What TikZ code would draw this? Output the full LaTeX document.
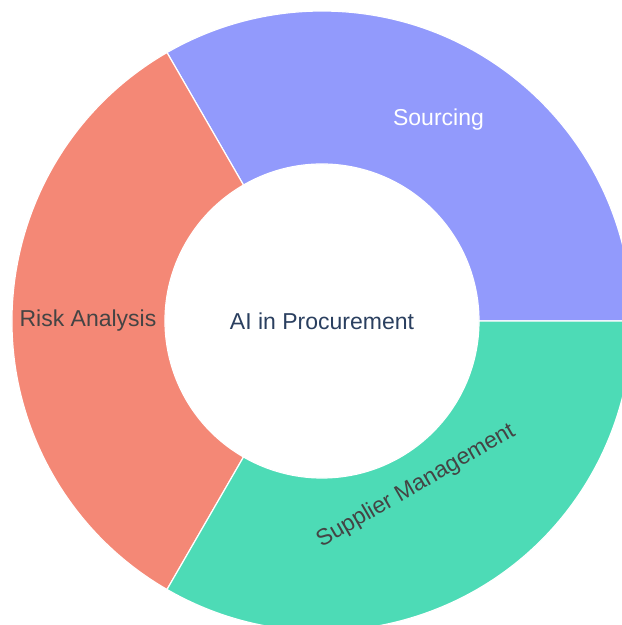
\documentclass[tikz,border=0pt]{standalone}
\usepackage{fontspec}
\setmainfont{Liberation Sans}
\usepackage{tikz}
\usetikzlibrary{positioning}

\definecolor{srcC}{RGB}{146,154,252}
\definecolor{riskC}{RGB}{244,136,118}
\definecolor{supC}{RGB}{77,219,182}
\definecolor{txtC}{RGB}{68,68,68}
\definecolor{midC}{RGB}{42,63,95}

\begin{document}
\begin{tikzpicture}[x=1pt,y=1pt]
	\tikzstyle{Seg} = [draw=white,line width=1.2pt]
	\tikzstyle{L} = [font=\fontsize{23}{28}\selectfont,inner sep=0pt,text=txtC]
	\def\Ro{310}
	\def\Ri{157}
	\useasboundingbox (-322,-304) rectangle (300,321);
	\clip (-322,-304) rectangle (300,321);
	% the three parts of the ring
	\filldraw[Seg,fill=srcC] (0:\Ri) -- (0:\Ro) arc[start angle=0,end angle=120,radius=\Ro] -- (120:\Ri) arc[start angle=120,end angle=0,radius=\Ri] -- cycle;
	\filldraw[Seg,fill=riskC] (120:\Ri) -- (120:\Ro) arc[start angle=120,end angle=240,radius=\Ro] -- (240:\Ri) arc[start angle=240,end angle=120,radius=\Ri] -- cycle;
	\filldraw[Seg,fill=supC] (240:\Ri) -- (240:\Ro) arc[start angle=240,end angle=360,radius=\Ro] -- (360:\Ri) arc[start angle=360,end angle=240,radius=\Ri] -- cycle;
	% labels
	\node[L,text=midC](ctr) at (0,0) {AI in Procurement};
	\node[L,text=white](src) at (60:233) {Sourcing};
	\node[L](risk) at (180:234) {Risk Analysis};
	\node[L,rotate=30](sup) at (94,-165) {Supplier Management};
\end{tikzpicture}
\end{document}
